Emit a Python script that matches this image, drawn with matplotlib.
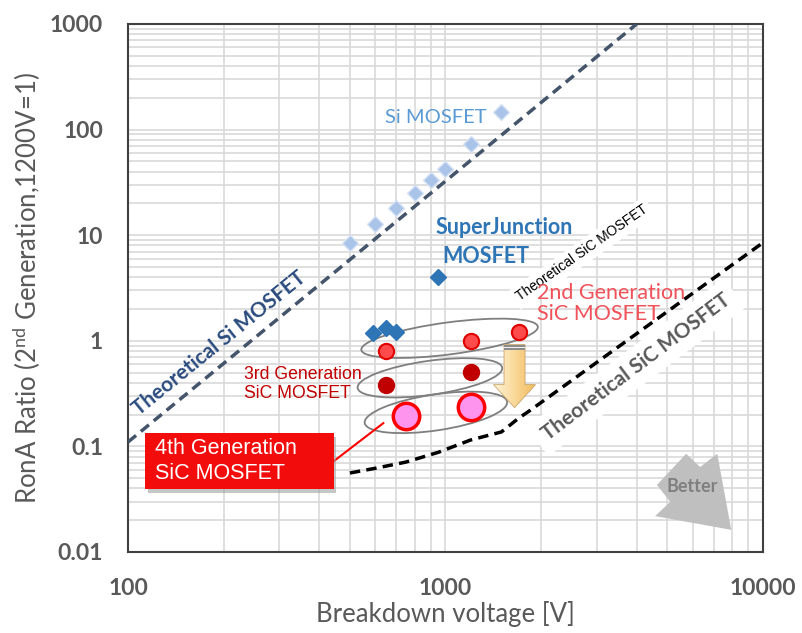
import numpy as np
import matplotlib
matplotlib.use('Agg')
import matplotlib.pyplot as plt
from matplotlib.patches import Ellipse, Polygon, Rectangle
from matplotlib.transforms import ScaledTranslation

plt.rcParams['font.family'] = ['Lato', 'DejaVu Sans']

# breakdown voltage [V] and RonA ratio of each device family
si_v = [500, 600, 700, 800, 900, 1000, 1200, 1500]
si_r = [8.5, 12.8, 18.2, 25, 33, 42.5, 73, 147]
sj_v = [590, 650, 700, 950]
sj_r = [1.19, 1.33, 1.22, 4.0]
gen2_v = [650, 1200, 1700]
gen2_r = [0.80, 1.0, 1.22]
gen3_v = [650, 1200]
gen3_r = [0.38, 0.51]
gen4_v = [750, 1200]
gen4_r = [0.195, 0.237]

# theoretical limits
si_limit_v = [100, 4000]
si_limit_r = [0.11, 1000]
sic_limit_v = [500, 600, 750, 950, 1200, 1500, 1700, 1850, 10000]
sic_limit_r = [0.056, 0.062, 0.071, 0.088, 0.115, 0.137, 0.185, 0.22, 8.5]

# generation groups: centre (V, ratio), half axes [px], tilt [deg]
groups_v = [1030, 893, 933]
groups_r = [1.056, 0.446, 0.210]
groups_a = [89, 73, 72]
groups_b = [16, 17, 18]
groups_tilt = [7.5, 8, 8.5]

x_ticks = [100, 1000, 10000]
x_tick_labels = ['100', '1000', '10000']
y_ticks = [0.01, 0.1, 1, 10, 100, 1000]
y_tick_labels = ['0.01', '0.1', '1', '10', '100', '1000']

fig = plt.figure(figsize=(8.03, 6.33), dpi=100)
ax = fig.add_axes([128 / 803, 81 / 633, 635 / 803, 528 / 633])
ax.set_xscale('log')
ax.set_yscale('log')
ax.set_xlim(100, 10000)
ax.set_ylim(0.01, 1000)
ax.grid(which='both', color='#D9D9D9', lw=1.2)
ax.set_axisbelow(True)
for s in ax.spines.values():
    s.set_color('#404040')
    s.set_linewidth(1.5)
ax.tick_params(which='both', length=0)
ax.set_xticks(x_ticks, x_tick_labels)
ax.set_yticks(y_ticks, y_tick_labels)
ax.tick_params(axis='x', pad=19)
ax.tick_params(axis='y', pad=18)
for lab in ax.get_xticklabels() + ax.get_yticklabels():
    lab.set_fontsize(16.5)
    lab.set_fontweight('bold')
    lab.set_color('#595959')
ax.set_xlabel('Breakdown voltage [V]', fontsize=18.5, color='#595959', labelpad=1)
ax.set_ylabel('RonA Ratio (2$^{\\mathregular{nd}}$ Generation,1200V=1)',
              fontsize=18.5, color='#595959', labelpad=5)

# limit lines
ax.plot(si_limit_v, si_limit_r, color='#44546A', lw=2.5, ls=(0, (3, 1.8)), zorder=3)
ax.plot(sic_limit_v, sic_limit_r, color='black', lw=2.5, ls=(0, (3, 1.8)), zorder=3)

# generation groups
for v, r, a, b, t in zip(groups_v, groups_r, groups_a, groups_b, groups_tilt):
    off = fig.dpi_scale_trans + ScaledTranslation(v, r, ax.transData)
    ax.add_patch(Ellipse((0, 0), 2 * a / 100, 2 * b / 100, angle=t, fc='none',
                         ec='#7F7F7F', lw=1.3, transform=off, zorder=4))

# measured devices
ax.plot(si_v, si_r, 'D', ms=8.5, mfc='#A9C4E8', mec='#D6E2F3', mew=1, zorder=5)
ax.plot(sj_v, sj_r, 'D', ms=8.5, mfc='#2E75B6', mec='#2E75B6', mew=1, zorder=5)
ax.plot(gen2_v, gen2_r, 'o', ms=11, mfc='#FF4B4B', mec='#E00000', mew=1.5, zorder=5)
ax.plot(gen3_v, gen3_r, 'o', ms=11, mfc='#C00000', mec='#C00000', mew=1.5, zorder=5)
ax.plot(gen4_v, gen4_r, 'o', ms=19, mfc='#FF94EE', mec='#FF0000', mew=2.5, zorder=5)

# improvement arrow below the 2nd generation point
off = fig.dpi_scale_trans + ScaledTranslation(1650, 0.92, ax.transData)
arrow_xy = [(-0.105, 0), (0.105, 0), (0.105, -0.40), (0.21, -0.40),
            (0, -0.63), (-0.21, -0.40), (-0.105, -0.40)]
arrow = Polygon(arrow_xy, closed=True, fc='none', ec='none', transform=off, zorder=6)
ax.add_patch(arrow)
c0 = np.array(matplotlib.colors.to_rgb('#FFF4D6'))
c1 = np.array(matplotlib.colors.to_rgb('#F2BC5E'))
n = 30
for i in range(n):
    x0 = -0.21 + 0.42 * i / n
    strip = Rectangle((x0, -0.64), 0.42 / n + 0.002, 0.65,
                      fc=c0 + (c1 - c0) * i / (n - 1), ec='none',
                      transform=off, zorder=6)
    ax.add_patch(strip)
    strip.set_clip_path(arrow)
ax.add_patch(Polygon(arrow_xy, closed=True, fc='none', ec='#C9A66B', lw=0.6,
                     transform=off, zorder=6))
ax.add_patch(Rectangle((-0.105, -0.05), 0.21, 0.05, fc='#8C8C8C', ec='none',
                       transform=off, zorder=7))
ax.add_patch(Rectangle((-0.105, -0.035), 0.21, 0.012, fc='#F2F2F2', ec='none',
                       transform=off, zorder=7))

# "Better" arrow
better = [(0.879, 0.186), (0.833, 0.127), (0.854, 0.095), (0.830, 0.068),
          (0.950, 0.042), (0.928, 0.186), (0.901, 0.161)]
ax.add_patch(Polygon(better, closed=True, fc='#BFBFBF', ec='none',
                     transform=ax.transAxes, zorder=4))
ax.text(0.888, 0.125, 'Better', transform=ax.transAxes, fontsize=13,
        fontweight='bold', color='#7F7F7F', ha='center', va='center', zorder=5)

# text labels
ax.text(0.405, 0.822, 'Si MOSFET', transform=ax.transAxes, fontsize=14.5,
        color='#5B9BD5', va='center', zorder=6)
ax.text(0.485, 0.614, 'SuperJunction', transform=ax.transAxes, fontsize=15.5,
        fontweight='bold', color='#2E75B6', va='center', zorder=6)
ax.text(0.495, 0.559, 'MOSFET', transform=ax.transAxes, fontsize=15.5,
        fontweight='bold', color='#2E75B6', va='center', zorder=6)
ax.text(0.143, 0.396, 'Theoretical Si MOSFET', transform=ax.transAxes,
        fontsize=15, fontweight='bold', color='#2B4C7E', rotation=39,
        ha='center', va='center', rotation_mode='anchor', zorder=6)
ax.text(0.715, 0.566, 'Theoretical SiC MOSFET', transform=ax.transAxes,
        fontsize=10, family=['Liberation Sans'], color='black', rotation=35,
        ha='center', va='center', rotation_mode='anchor', zorder=6,
        bbox=dict(fc='white', ec='none', pad=3))
ax.text(0.8, 0.350, 'Theoretical SiC MOSFET', transform=ax.transAxes,
        fontsize=15, fontweight='bold', color='#595959', rotation=37,
        ha='center', va='center', rotation_mode='anchor', zorder=6,
        bbox=dict(fc='white', ec='none', pad=6))
ax.text(0.644, 0.471, '2nd Generation\nSiC MOSFET', transform=ax.transAxes,
        fontsize=15.5, color='#F0525A', va='center', linespacing=1.1, zorder=7)
ax.text(0.183, 0.318, '3rd Generation\nSiC MOSFET', transform=ax.transAxes,
        fontsize=12.7, family=['Liberation Sans'], color='#C00000',
        va='center', linespacing=1.2, zorder=7)

# 4th generation call-out
ax.plot([0.324, 0.402], [0.172, 0.244], color='#FF0000', lw=1.5,
        transform=ax.transAxes, zorder=7)
ax.add_patch(Rectangle((0.031, 0.112), 0.297, 0.106, fc='#A0A0A0', ec='none',
                       alpha=0.6, transform=ax.transAxes, zorder=7))
ax.add_patch(Rectangle((0.0268, 0.119), 0.297, 0.106, fc='#F20C0C', ec='none',
                       transform=ax.transAxes, zorder=8))
ax.text(0.0425, 0.172, '4th Generation\nSiC MOSFET', transform=ax.transAxes,
        fontsize=15.5, family=['Liberation Sans'], color='white', va='center',
        linespacing=1.25, zorder=9)

fig.savefig('out.png', dpi=100)
